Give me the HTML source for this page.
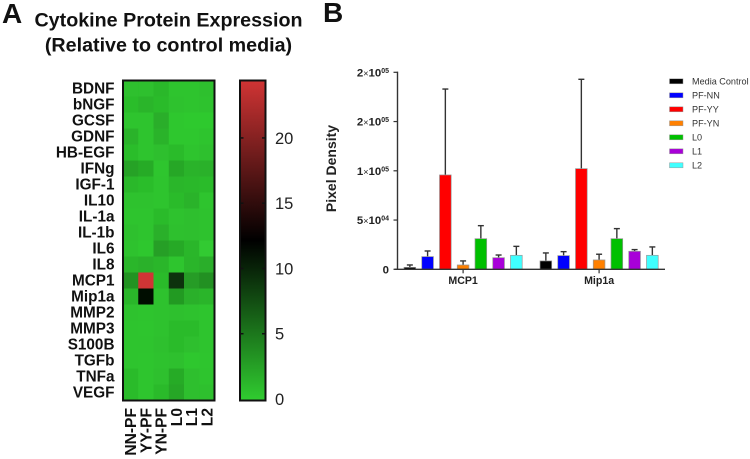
<!DOCTYPE html>
<html lang="en">
<head>
<meta charset="utf-8">
<title>Cytokine Protein Expression</title>
<style>
html,body{margin:0;padding:0;background:#fff;}
svg{display:block;font-family:"Liberation Sans",Arial,sans-serif;}
</style>
</head>
<body>
<svg id="chart" xmlns="http://www.w3.org/2000/svg" width="750" height="459" viewBox="0 0 750 459">
  <defs>
    <linearGradient id="cbar-gradient" x1="0" y1="1" x2="0" y2="0">
      <stop offset="0" stop-color="#30cc30"/>
      <stop offset="0.5" stop-color="#000000"/>
      <stop offset="1" stop-color="#d03434"/>
    </linearGradient>
    <filter id="soft" x="-5%" y="-5%" width="110%" height="110%"><feGaussianBlur stdDeviation="0.35"/></filter>
  </defs>
  <text x="2" y="23" font-size="28" font-weight="700" fill="#111">A</text>
  <text x="323" y="22" font-size="28" font-weight="700" fill="#111">B</text>
  <text x="168.5" y="26.5" font-size="19.7" font-weight="700" fill="#111" text-anchor="middle">Cytokine Protein Expression</text>
  <text x="168.5" y="51.5" font-size="19.7" font-weight="700" fill="#111" text-anchor="middle">(Relative to control media)</text>
  <g id="heatmap"></g>
  <g id="colorbar"></g>
  <g id="bars"></g>
  <g id="legend"></g>
</svg>
<script>
const rowNames = ["BDNF","bNGF","GCSF","GDNF","HB-EGF","IFNg","IGF-1","IL10","IL-1a","IL-1b","IL6","IL8","MCP1","Mip1a","MMP2","MMP3","S100B","TGFb","TNFa","VEGF"];
const colNames = ["NN-PF","YY-PF","YN-PF","L0","L1","L2"];
const heatValues = [
  [0.7,0.7,1.2,0.5,0.5,0.7],
  [0.9,1.4,1.0,0.6,0.5,0.6],
  [0.5,0.5,1.8,0.3,0.2,0.2],
  [1.5,0.5,1.5,0.3,0.3,0.5],
  [0.9,0.5,0.8,1.0,0.5,0.7],
  [2.5,2.0,0.4,2.2,1.5,1.6],
  [1.2,0.9,0.5,1.3,1.2,1.0],
  [0.6,0.6,0.5,1.0,1.5,0.5],
  [0.5,0.5,1.0,0.6,0.8,0.6],
  [0.7,0.5,1.7,0.7,0.8,0.6],
  [0.6,0.3,2.7,2.1,1.3,0.1],
  [1.3,1.6,1.3,0.4,1.4,1.8],
  [3.4,24.4,1.0,9.2,2.9,3.6],
  [1.3,11.2,0.6,3.0,1.7,1.4],
  [0.6,0.5,0.6,0.7,0.6,0.4],
  [0.5,0.4,0.6,1.0,1.0,0.5],
  [0.5,0.5,0.7,1.0,0.8,0.5],
  [0.5,0.4,0.6,0.7,0.3,0.4],
  [1.0,0.4,0.7,2.0,0.8,0.5],
  [1.0,0.4,1.1,2.3,0.8,0.7]
];
const colorbarTicks = [0,5,10,15,20];
const colorMax = 24.4;

const barGroups = ["MCP1","Mip1a"];
const barSeries = ["Media Control","PF-NN","PF-YY","PF-YN","L0","L1","L2"];
const seriesColors = ["#000000","#0000ff","#ff0000","#ff8000","#00c000","#a800d8","#40ffff"];
const mcp1Means = [2000,12900,95800,4400,31100,11800,14200];
const mcp1Errors = [2400,5700,87200,4100,13200,2700,9100];
const mip1aMeans = [8500,13900,102200,9500,31100,18300,14200];
const mip1aErrors = [8100,4000,90700,5800,10200,1700,8500];
const yTickValues = [0,50000,100000,150000,200000];
const yTickMantissas = ["0","5","1","2","2"];
const yTickExponents = ["","04","05","05","05"];

const NS = "http://www.w3.org/2000/svg";
function mk(parent, tag, attrs, text) {
  const el = document.createElementNS(NS, tag);
  for (const k in attrs) el.setAttribute(k, attrs[k]);
  if (text !== undefined) el.textContent = text;
  parent.appendChild(el);
  return el;
}

/* heatmap axes */
const hm = { left: 123, top: 80.5, cellW: 15.25, cellH: 16 };
const colX = i => hm.left + i * hm.cellW;
const rowY = i => hm.top + i * hm.cellH;
function heatColor(v) {
  const t = Math.min(Math.max(v / colorMax, 0), 1);
  let r, g, b;
  if (t < 0.5) { const f = 1 - t / 0.5; r = 48 * f; g = 204 * f; b = 48 * f; }
  else { const f = (t - 0.5) / 0.5; r = 208 * f; g = 52 * f; b = 52 * f; }
  return "rgb(" + Math.round(r) + "," + Math.round(g) + "," + Math.round(b) + ")";
}
const heatGroup = document.getElementById("heatmap");
const heatCells = mk(heatGroup, "g", {filter: "url(#soft)"});


heatValues.forEach((row, r) => {
  row.forEach((v, c) => {
    const cell = mk(heatCells, "rect", {x: colX(c), y: rowY(r), width: hm.cellW + 0.3, height: hm.cellH + 0.3, fill: heatColor(v)});
    
    
  });
});
const heatFrame = mk(heatGroup, "rect", {x: 123, y: 80.5, width: 91.5, height: 320, fill: "none", stroke: "#111", "stroke-width": 2});


rowNames.forEach((name, r) => {
  const t = mk(heatGroup, "text", {x: 114.5, y: rowY(r) + 13, "font-size": 15.3, "font-weight": 700, fill: "#111", "text-anchor": "end"}, name);
  
  
});
colNames.forEach((name, c) => {
  const x = colX(c) + hm.cellW / 2 + 5.5;
  const t = mk(heatGroup, "text", {x: x, y: 408, "font-size": 15.6, "font-weight": 700, fill: "#111", "text-anchor": "end", transform: "rotate(-90 " + x + " 408)"}, name);
  
  
});

/* colorbar axis */
const cb = { left: 240, right: 265.5, top: 80.5, bottom: 400.5 };
const cbY = v => cb.bottom - 1.5 - (v / colorMax) * (cb.bottom - cb.top - 1.5);
const cbGroup = document.getElementById("colorbar");
const cbRect = mk(cbGroup, "rect", {x: cb.left, y: cb.top, width: cb.right - cb.left, height: cb.bottom - cb.top, fill: "url(#cbar-gradient)", stroke: "#111", "stroke-width": 2});


colorbarTicks.forEach(v => {
  const y = cbY(v);
  if (v > 0) {
    mk(cbGroup, "line", {x1: cb.left, x2: cb.left + 3.5, y1: y, y2: y, stroke: "#111", "stroke-width": 1.5});
    mk(cbGroup, "line", {x1: cb.right - 3.5, x2: cb.right, y1: y, y2: y, stroke: "#111", "stroke-width": 1.5});
  }
  const t = mk(cbGroup, "text", {x: 275, y: y + 6, "font-size": 16.5, fill: "#222"}, String(v));
  
  
});

/* bar chart axes */
const plot = { axisX: 397.5, xEnd: 665, y0: 269.3, pxPerUnit: 197 / 200000, firstBar: [404, 540], pitch: 17.75, barW: 11.7 };
const yScale = v => plot.y0 - v * plot.pxPerUnit;
const barX = (g, s) => plot.firstBar[g] + s * plot.pitch;
const barGroup = document.getElementById("bars");
const dataByGroup = [[mcp1Means, mcp1Errors], [mip1aMeans, mip1aErrors]];
barGroups.forEach((name, g) => {
  const means = dataByGroup[g][0], errs = dataByGroup[g][1];
  barSeries.forEach((s, i) => {
    const x = barX(g, i), top = yScale(means[i]), errTop = yScale(means[i] + errs[i]), cx = x + plot.barW / 2;
    const stem = mk(barGroup, "line", {x1: cx, x2: cx, y1: top, y2: errTop, stroke: "#333", "stroke-width": 1.4});
    
    
    const cap = mk(barGroup, "line", {x1: cx - 3, x2: cx + 3, y1: errTop, y2: errTop, stroke: "#333", "stroke-width": 1.4});
    
    
    const bar = mk(barGroup, "rect", {x: x, y: top, width: plot.barW, height: plot.y0 - top, fill: seriesColors[i], stroke: "#999", "stroke-width": 0.7});
    
    
  });
  const cx = barX(g, 3) + plot.barW / 2;
  mk(barGroup, "line", {x1: cx, x2: cx, y1: plot.y0, y2: plot.y0 + 4, stroke: "#333", "stroke-width": 1.2});
  const label = mk(barGroup, "text", {x: cx, y: 284, "font-size": 10.6, "font-weight": 700, fill: "#222", "text-anchor": "middle"}, name);
  
  
});
const yAxis = mk(barGroup, "line", {x1: plot.axisX, x2: plot.axisX, y1: yScale(200000) - 0.7, y2: plot.y0 + 0.7, stroke: "#333", "stroke-width": 1.4});


const xAxis = mk(barGroup, "line", {x1: plot.axisX - 3, x2: plot.xEnd, y1: plot.y0, y2: plot.y0, stroke: "#333", "stroke-width": 1.4});


yTickValues.forEach((v, i) => {
  const y = yScale(v);
  mk(barGroup, "line", {x1: plot.axisX - 4, x2: plot.axisX, y1: y, y2: y, stroke: "#333", "stroke-width": 1.2});
  const t = mk(barGroup, "text", {x: 389, y: y + 4, "font-size": 11.4, "font-weight": 700, fill: "#222", "text-anchor": "end"});
  
  
  if (yTickExponents[i]) {
    mk(t, "tspan", {}, yTickMantissas[i]);
    mk(t, "tspan", {"font-weight": 400, "font-size": 9}, "×");
    mk(t, "tspan", {}, "10");
    mk(t, "tspan", {"font-size": 7, dy: -3.5}, yTickExponents[i]);
  } else {
    t.textContent = yTickMantissas[i];
  }
});
const yTitle = mk(barGroup, "text", {x: 336, y: 168.5, "font-size": 14, "font-weight": 700, fill: "#222", "text-anchor": "middle", transform: "rotate(-90 336 168.5)"}, "Pixel Density");



/* legend */
const legendGroup = document.getElementById("legend");
barSeries.forEach((s, i) => {
  const y = 81.3 + i * 14;
  const sw = mk(legendGroup, "rect", {x: 669.5, y: y - 2.5, width: 13.5, height: 5, fill: seriesColors[i], stroke: "#999", "stroke-width": 0.5});
  
  
  const t = mk(legendGroup, "text", {x: 692, y: y + 3.2, "font-size": 9.1, fill: "#333"}, s);
  
  
});
</script>
</body>
</html>
